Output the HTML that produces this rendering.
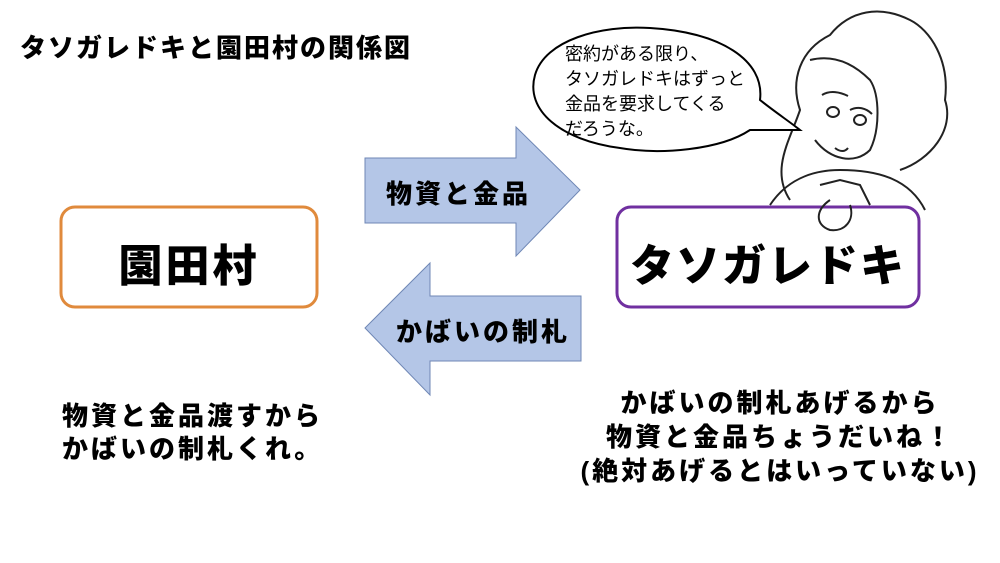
<!DOCTYPE html>
<html><head><meta charset="utf-8"><style>
body{margin:0;width:1000px;height:563px;background:#fff;overflow:hidden;position:relative;font-family:"Liberation Sans","Noto Sans CJK JP",sans-serif;}
.t{position:absolute;font-weight:900;color:#000;white-space:nowrap;}
</style></head><body>
<svg width="1000" height="563" style="position:absolute;left:0;top:0">
<polygon points="365,158 516,158 516,127 580,190 516,256 516,223 365,223" fill="#b4c6e7" stroke="#6f87b5" stroke-width="1"/>
<polygon points="581,296 430,296 430,263 365,328 430,395 430,361 581,361" fill="#b4c6e7" stroke="#6f87b5" stroke-width="1"/>
<rect x="61" y="207" width="256" height="100" rx="14" fill="#fff" stroke="#e08a3c" stroke-width="3"/>
<g fill="none" stroke="#222" stroke-width="2">
<path d="M790,200 C770,170 790,140 800,110 C790,80 800,50 830,35 C850,10 880,5 910,20 C930,30 950,60 945,100 C955,130 930,160 900,170"/>
<path d="M810,60 C830,55 850,60 870,80 C880,95 880,130 870,150 C855,165 830,160 815,140"/>
<path d="M835,148 C840,152 845,152 848,148"/>
<path d="M770,205 C790,175 820,170 840,170 C880,170 910,180 925,210"/>
<path d="M820,185 L840,180 L860,185 L870,205"/>
<path d="M822,95 C830,90 840,92 848,96"/>
<path d="M850,110 C858,106 866,108 872,114"/>
<ellipse cx="833" cy="112" rx="6" ry="5"/><ellipse cx="860" cy="120" rx="6" ry="5"/>
</g>
<rect x="617" y="207" width="302" height="100" rx="14" fill="#fff" stroke="#7030a0" stroke-width="3"/>
<g fill="none" stroke="#222" stroke-width="2"><path d="M830,200 C815,210 815,225 830,230 C845,232 855,220 850,205"/></g>
<path d="M750,130 C720,150 660,155 620,148 C560,140 525,110 535,75 C545,40 600,25 650,28 C720,32 765,60 760,100 C775,112 790,122 800,130 Z" fill="#fff" stroke="#000" stroke-width="2"/>
</svg>
<div class="t" style="left:20px;top:28px;font-size:26px;letter-spacing:2px">タソガレドキと園田村の関係図</div>
<div class="t" style="left:565px;top:42px;font-size:18px;font-weight:normal;line-height:25px">密約がある限り、<br>タソガレドキはずっと<br>金品を要求してくる<br>だろうな。</div>
<div class="t" style="left:386px;top:174px;font-size:26px;letter-spacing:3px">物資と金品</div>
<div class="t" style="left:396px;top:312px;font-size:26px;letter-spacing:3px">かばいの制札</div>
<div class="t" style="left:61px;top:230px;width:256px;text-align:center;font-size:44px;letter-spacing:3px">園田村</div>
<div class="t" style="left:617px;top:230px;width:302px;text-align:center;font-size:44px;letter-spacing:2px">タソガレドキ</div>
<div class="t" style="left:62px;top:400px;font-size:26px;line-height:33px;letter-spacing:3px">物資と金品渡すから<br>かばいの制札くれ。</div>
<div class="t" style="left:560px;top:386px;width:440px;text-align:center;font-size:26px;line-height:34px;letter-spacing:3px">かばいの制札あげるから<br>物資と金品ちょうだいね！<br>(絶対あげるとはいっていない)</div>
</body></html>
